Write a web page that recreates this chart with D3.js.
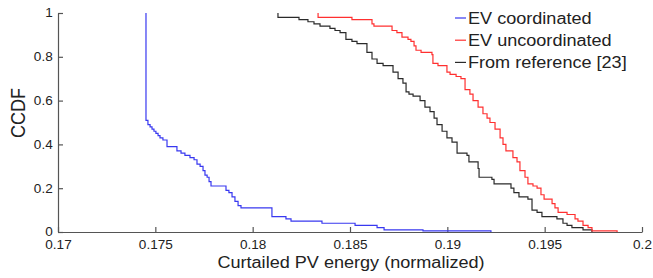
<!DOCTYPE html>
<html>
<head>
<meta charset="utf-8">
<script src="https://cdn.jsdelivr.net/npm/d3@7"></script>
<style>
  body { margin: 0; background: #fff; }
  text { font-family: Arial, "Liberation Sans", sans-serif; fill: #222; }
</style>
</head>
<body>
<script>
// CCDF step curves (x = curtailed energy, y = CCDF)
var coordX = [0.17452, 0.17452, 0.17462, 0.17473, 0.17483, 0.17493, 0.17503, 0.17514, 0.17524, 0.17539,
              0.17560, 0.17611, 0.17632, 0.17652, 0.17678, 0.17699, 0.17714, 0.17730, 0.17745, 0.17755,
              0.17766, 0.17776, 0.17786, 0.17863, 0.17878, 0.17894, 0.17909, 0.17925, 0.17940, 0.18099,
              0.18171, 0.18197, 0.18356, 0.18526, 0.18639, 0.18675, 0.18875, 0.19224];
var coordY = [1, 0.51, 0.49, 0.48, 0.47, 0.46, 0.45, 0.44, 0.43, 0.42,
              0.39, 0.37, 0.36, 0.35, 0.34, 0.33, 0.31, 0.30, 0.28, 0.26,
              0.25, 0.23, 0.21, 0.19, 0.18, 0.16, 0.14, 0.12, 0.11, 0.07,
              0.06, 0.05, 0.04, 0.03, 0.02, 0.01, 0.005, 0];

var uncoordX = [0.18336, 0.18336, 0.18510, 0.18613, 0.18623, 0.18716, 0.18741, 0.18767, 0.18798, 0.18813,
                0.18829, 0.18839, 0.18865, 0.18921, 0.18926, 0.18952, 0.18998, 0.19014, 0.19045, 0.19070,
                0.19091, 0.19116, 0.19132, 0.19158, 0.19183, 0.19204, 0.19219, 0.19245, 0.19271, 0.19286,
                0.19301, 0.19337, 0.19358, 0.19373, 0.19399, 0.19414, 0.19440, 0.19461, 0.19481, 0.19497,
                0.19538, 0.19553, 0.19569, 0.19615, 0.19656, 0.19671, 0.19697, 0.19723, 0.19743, 0.19872];
var uncoordY = [1, 0.98, 0.97, 0.95, 0.94, 0.92, 0.91, 0.89, 0.88, 0.87,
                0.85, 0.83, 0.82, 0.81, 0.77, 0.76, 0.73, 0.72, 0.71, 0.70,
                0.65, 0.63, 0.60, 0.57, 0.54, 0.52, 0.50, 0.47, 0.43, 0.40,
                0.37, 0.34, 0.32, 0.28, 0.25, 0.22, 0.21, 0.20, 0.17, 0.15,
                0.13, 0.11, 0.09, 0.08, 0.06, 0.05, 0.03, 0.02, 0.005, 0];

var refX = [0.18130, 0.18130, 0.18238, 0.18284, 0.18315, 0.18346, 0.18397, 0.18423, 0.18449, 0.18479,
            0.18510, 0.18536, 0.18587, 0.18613, 0.18639, 0.18670, 0.18721, 0.18747, 0.18772, 0.18788,
            0.18803, 0.18824, 0.18860, 0.18885, 0.18911, 0.18932, 0.18947, 0.18973, 0.18998, 0.19024,
            0.19050, 0.19101, 0.19111, 0.19158, 0.19163, 0.19229, 0.19240, 0.19327, 0.19342, 0.19368,
            0.19414, 0.19435, 0.19461, 0.19486, 0.19563, 0.19594, 0.19615, 0.19640, 0.19697, 0.19743];
var refY = [1, 0.98, 0.97, 0.96, 0.95, 0.94, 0.93, 0.92, 0.91, 0.88,
            0.87, 0.86, 0.82, 0.79, 0.77, 0.76, 0.73, 0.70, 0.68, 0.64,
            0.63, 0.62, 0.60, 0.57, 0.55, 0.52, 0.49, 0.46, 0.43, 0.41,
            0.36, 0.35, 0.32, 0.29, 0.25, 0.24, 0.22, 0.20, 0.18, 0.16,
            0.15, 0.10, 0.09, 0.07, 0.06, 0.04, 0.03, 0.02, 0.01, 0];

var xTicks = [0.17, 0.175, 0.18, 0.185, 0.19, 0.195, 0.2];
var yTicks = [0, 0.2, 0.4, 0.6, 0.8, 1];
var seriesNames = ["EV coordinated", "EV uncoordinated", "From reference [23]"];
var seriesColors = ["#3838f0", "#ff3030", "#2a2a2a"];

var width = 653, height = 278;
var margin = {left: 58, right: 11, top: 13, bottom: 46};
var stretch = 1.13; // the original figure's lettering is a bit wide

var svg = d3.select("body").append("svg").attr("width", width).attr("height", height);

var x = d3.scaleLinear().domain([0.17, 0.2]).range([margin.left, width - margin.right]);
var y = d3.scaleLinear().domain([0, 1]).range([height - margin.bottom, margin.top]);

// axes: ticks point into the plot, like the original
var xAxis = svg.append("g").attr("transform", "translate(0," + (height - margin.bottom) + ")")
  .call(d3.axisBottom(x).tickValues(xTicks).tickSizeInner(-5).tickSizeOuter(0)
    .tickFormat(function(d) { return d3.format("")(+d.toFixed(3)); }));
var yAxis = svg.append("g").attr("transform", "translate(" + margin.left + ",0)")
  .call(d3.axisLeft(y).tickValues(yTicks).tickSizeInner(-5).tickSizeOuter(0)
    .tickFormat(function(d) { return d3.format("")(d); }));

svg.selectAll(".domain, .tick line").attr("stroke", "#555").attr("stroke-width", 1.2);
xAxis.selectAll("text").attr("y", 8.5).attr("dy", "0.71em").style("font-size", "12px")
  .attr("fill", "#222").attr("transform", "scale(" + stretch + ",1)");
yAxis.selectAll("text").attr("x", -4.7).style("font-size", "12px")
  .attr("fill", "#222").attr("transform", "scale(" + stretch + ",1)");

// curves
var data = [
  d3.zip(coordX, coordY),
  d3.zip(uncoordX, uncoordY),
  d3.zip(refX, refY)
];
var line = d3.line()
  .x(function(d) { return x(d[0]); })
  .y(function(d) { return y(d[1]); })
  .curve(d3.curveStepAfter);

// draw reference first so red/blue sit on top like the picture
[2, 1, 0].forEach(function(i) {
  svg.append("path")
    .attr("fill", "none")
    .attr("stroke", seriesColors[i])
    .attr("stroke-width", 1.2)
    .attr("d", line(data[i]));
});

// legend
var legend = svg.append("g").attr("transform", "translate(455,18)");
seriesNames.forEach(function(name, i) {
  var row = legend.append("g").attr("transform", "translate(0," + (i * 22.2) + ")");
  row.append("line").attr("x1", 0).attr("x2", 11).attr("y1", 0).attr("y2", 0)
    .attr("stroke", seriesColors[i]).attr("stroke-width", 1.2);
  row.append("text").attr("transform", "translate(13,0) scale(" + stretch + ",1)")
    .attr("dy", "0.35em").style("font-size", "16px").text(name);
});

// axis titles
svg.append("text")
  .attr("transform", "translate(351,268) scale(" + stretch + ",1)")
  .attr("text-anchor", "middle")
  .style("font-size", "16px")
  .text("Curtailed PV energy (normalized)");
svg.append("text")
  .attr("transform", "translate(25,113) scale(" + stretch + ",1) rotate(-90)")
  .attr("text-anchor", "middle")
  .style("font-size", "18px")
  .text("CCDF");
</script>
</body>
</html>
